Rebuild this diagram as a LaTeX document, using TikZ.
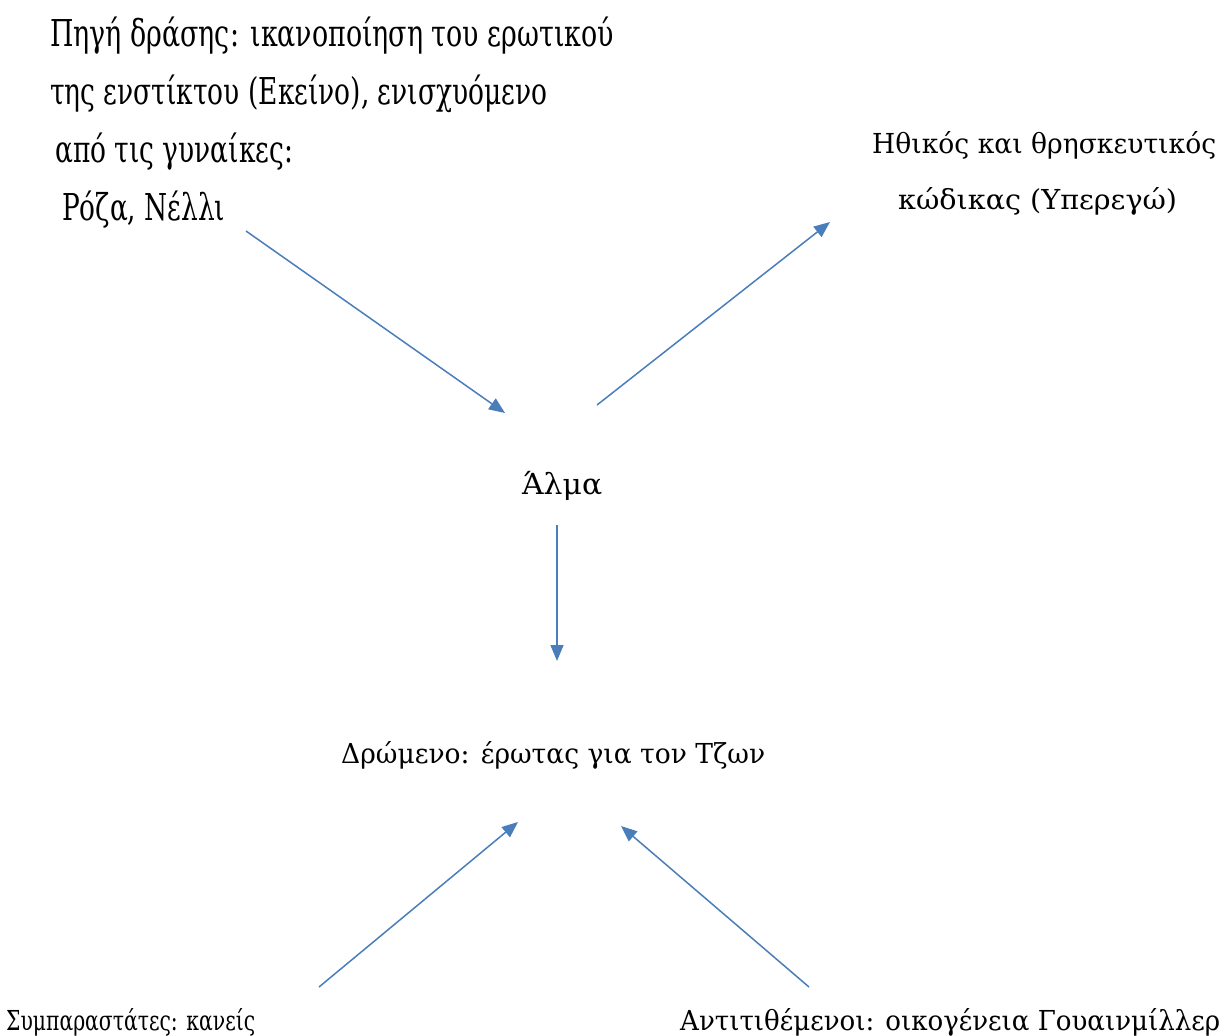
\documentclass[tikz,border=0pt]{standalone}
\usepackage{fontspec}
\setmainfont{DejaVu Serif}
\usetikzlibrary{arrows.meta}
\definecolor{arrowblue}{RGB}{74,126,187}
\newcommand\fitw[2]{\resizebox{#1pt}{\height}{#2}}
\tikzset{
  lbl/.style={inner sep=0pt, anchor=base west, font=\fontsize{27.5}{33}\selectfont},
  tall/.style={inner sep=0pt, anchor=base west, font=\fontsize{37}{44}\selectfont},
  big/.style={inner sep=0pt, anchor=base west, font=\fontsize{29}{35}\selectfont},
  conn/.style={draw=arrowblue, line width=1.5pt, -{Triangle[length=16pt,width=13pt]}, fill=arrowblue}
}
\begin{document}
\begin{tikzpicture}[x=1pt,y=-1pt]
\useasboundingbox (0,0) rectangle (1232,1036);
% top-left
\node[tall] (tl1) at (50,46) {\fitw{564}{Πηγή δράσης: ικανοποίηση του ερωτικού}};
\node[tall] (tl2) at (50,104) {\fitw{497}{της ενστίκτου (Εκείνο), ενισχυόμενο}};
\node[tall] (tl3) at (55,162) {\fitw{238}{από τις γυναίκες:}};
\node[tall] (tl4) at (62,220) {\fitw{163}{Ρόζα, Νέλλι}};
% top-right
\node[lbl] (tr1) at (872,153) {\fitw{344}{Ηθικός και θρησκευτικός}};
\node[lbl] (tr2) at (898,209) {\fitw{279}{κώδικας (Υπερεγώ)}};
% centre
\node[big] (alma) at (522,494) {\fitw{80}{Άλμα}};
\node[lbl] (drom) at (341,763) {\fitw{424}{Δρώμενο: έρωτας για τον Τζων}};
% bottom
\node[lbl] (bl) at (6,1030) {\fitw{249}{Συμπαραστάτες: κανείς}};
\node[lbl] (br) at (680,1030) {\fitw{540}{Αντιτιθέμενοι: οικογένεια Γουαινμίλλερ}};
% connector end points
\coordinate (a1s) at (246,231);
\coordinate (a1e) at (505,413);
\coordinate (a2s) at (597,405);
\coordinate (a2e) at (830,222);
\coordinate (a3s) at (557,525);
\coordinate (a3e) at (557,661);
\coordinate (a4s) at (319,987);
\coordinate (a4e) at (518,822);
\coordinate (a5s) at (809,987);
\coordinate (a5e) at (621,826);
\draw[conn] (a1s) -- (a1e);
\draw[conn] (a2s) -- (a2e);
\draw[conn] (a3s) -- (a3e);
\draw[conn] (a4s) -- (a4e);
\draw[conn] (a5s) -- (a5e);
\end{tikzpicture}
\end{document}
